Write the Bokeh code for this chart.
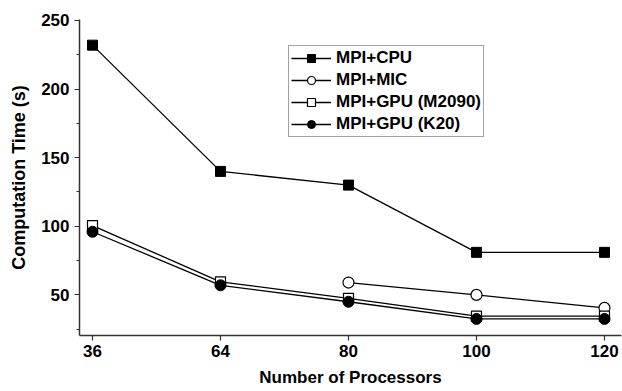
from bokeh.plotting import figure
from bokeh.models import Range1d, FixedTicker, Legend, LegendItem
from bokeh.embed import file_html
from bokeh.resources import INLINE

processors = ["36", "64", "80", "100", "120"]
cpu = [232, 140, 130, 81, 81]
mic_procs = ["80", "100", "120"]
mic = [59, 50, 40.5]
gpu_m2090 = [100.5, 59.5, 47.5, 34.5, 34.5]
gpu_k20 = [96, 57, 45, 32.5, 32.5]
y_ticks = [50, 100, 150, 200, 250]

FONT = "Liberation Sans"

xi = list(range(len(processors)))
mic_x = [processors.index(p) for p in mic_procs]

p = figure(width=622, height=391, output_backend="svg", toolbar_location=None,
           x_range=Range1d(-0.1016, 4.133), y_range=Range1d(20.4, 250.7),
           min_border_left=79, min_border_right=1, min_border_top=19, min_border_bottom=56)
p.outline_line_color = None
p.xgrid.visible = False
p.ygrid.visible = False

lw = 1.3
r1 = p.line(xi, cpu, line_color="black", line_width=lw)
m1 = p.scatter(xi, cpu, marker="square", size=10, fill_color="black", line_color="black")
r2 = p.line(mic_x, mic, line_color="black", line_width=lw)
m2 = p.scatter(mic_x, mic, marker="circle", size=11, fill_color="white", line_color="black", line_width=1.2)
r3 = p.line(xi, gpu_m2090, line_color="black", line_width=lw)
m3 = p.scatter(xi, gpu_m2090, marker="square", size=10, fill_color="white", line_color="black", line_width=1.2)
r4 = p.line(xi, gpu_k20, line_color="black", line_width=lw)
m4 = p.scatter(xi, gpu_k20, marker="circle", size=11, fill_color="black", line_color="black")

# axes
p.xaxis.ticker = FixedTicker(ticks=xi)
p.xaxis.major_label_overrides = {i: s for i, s in zip(xi, processors)}
p.yaxis.ticker = FixedTicker(ticks=y_ticks, minor_ticks=[25, 75, 125, 175, 225])
for ax in (p.xaxis, p.yaxis):
    ax.axis_line_color = "#333333"
    ax.axis_line_width = 1.5
    ax.major_tick_line_color = "#333333"
    ax.major_tick_line_width = 1.2
    ax.minor_tick_line_color = "#333333"
    ax.major_tick_out = 5
    ax.major_tick_in = 0
    ax.minor_tick_out = 3
    ax.minor_tick_in = 0
    ax.major_label_text_font = FONT
    ax.major_label_text_font_style = "bold"
    ax.major_label_text_font_size = "17px"
    ax.major_label_text_color = "black"
    ax.axis_label_text_font = FONT
    ax.axis_label_text_font_style = "bold"
    ax.axis_label_text_color = "black"
p.xaxis.axis_label_text_font_size = "17px"
p.yaxis.axis_label_text_font_size = "18px"
p.xaxis.minor_tick_line_color = None
p.xaxis.major_label_standoff = 4
p.yaxis.major_label_standoff = 5
p.xaxis.axis_label = "Number of Processors"
p.yaxis.axis_label = "Computation Time (s)"
p.xaxis.axis_label_standoff = 8
p.yaxis.axis_label_standoff = 9

legend = Legend(items=[
    LegendItem(label="MPI+CPU", renderers=[r1, m1]),
    LegendItem(label="MPI+MIC", renderers=[r2, m2]),
    LegendItem(label="MPI+GPU (M2090)", renderers=[r3, m3]),
    LegendItem(label="MPI+GPU (K20)", renderers=[r4, m4]),
], location=(209, 198))
legend.label_text_font = FONT
legend.label_text_font_style = "bold"
legend.label_text_font_size = "17px"
legend.label_text_color = "black"
legend.glyph_width = 40
legend.glyph_height = 20
legend.label_height = 20
legend.label_standoff = 5
legend.spacing = 2
legend.padding = 2
legend.margin = 0
legend.border_line_color = "#444444"
legend.border_line_width = 1.3
legend.background_fill_alpha = 1.0
p.add_layout(legend, "center")

open("out.html", "w").write(file_html(p, INLINE))
